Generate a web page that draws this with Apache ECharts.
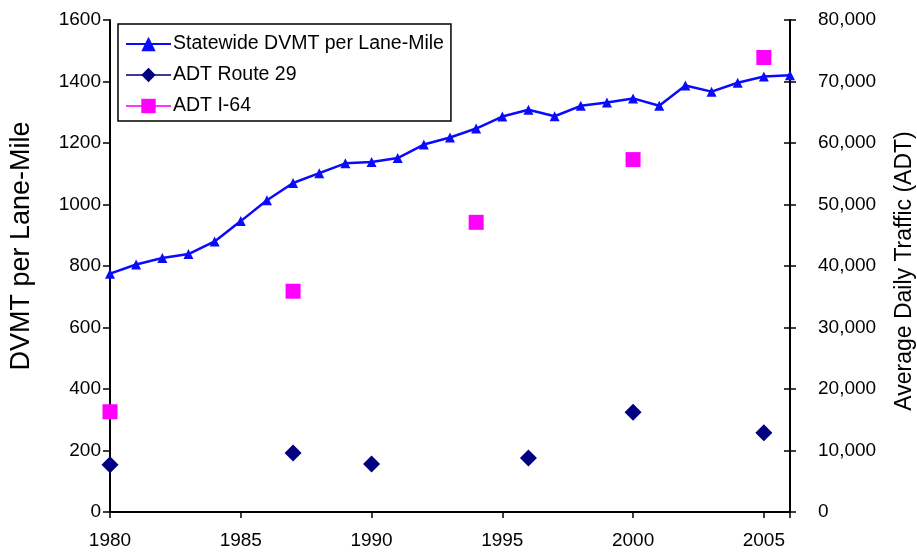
<!DOCTYPE html>
<html>
<head>
<meta charset="utf-8">
<script src="https://cdn.jsdelivr.net/npm/echarts@6/dist/echarts.min.js"></script>
<style>
html,body{margin:0;padding:0;background:#fff;}
#chart{width:917px;height:552px;}
</style>
</head>
<body>
<div id="chart"></div>
<script>
var years = [1980,1981,1982,1983,1984,1985,1986,1987,1988,1989,1990,1991,1992,1993,1994,1995,1996,1997,1998,1999,2000,2001,2002,2003,2004,2005,2006];
var dvmt = [775,805,826,839,880,946,1014,1070,1102,1134,1138,1151,1195,1218,1247,1286,1308,1287,1321,1332,1345,1321,1387,1367,1396,1416,1420];
var route29Years = [1980,1987,1990,1996,2000,2005];
var route29Adt = [7700,9600,7800,8800,16200,12900];
var i64Years = [1980,1987,1994,2000,2005];
var i64Adt = [16300,35900,47100,57300,73900];

var font = 'Liberation Sans, Arial, sans-serif';
function pairs(xs, ys){ return xs.map(function(x,i){ return [x, ys[i]]; }); }
function commas(v){ return String(v).replace(/\B(?=(\d{3})+(?!\d))/g, ','); }

var chart = echarts.init(document.getElementById('chart'), null, {renderer:'canvas'});
chart.setOption({
  animation:false,
  backgroundColor:'#fff',
  textStyle:{fontFamily:font, color:'#000'},
  grid:{left:110, right:127, top:20, bottom:40, outerBoundsMode:'none', containLabel:false},
  legend:{
    orient:'vertical', left:118, top:24,
    padding:[10,7,5,7], itemGap:11, itemWidth:45, itemHeight:18,
    borderColor:'#000', borderWidth:1.5, backgroundColor:'#fff',
    textStyle:{fontFamily:font, fontSize:19.5, color:'#000', padding:[0,0,0,-3]},
    data:[
      {name:'Statewide DVMT per Lane-Mile'},
      {name:'ADT Route 29', lineStyle:{opacity:1, width:2, color:'#3c3c8c'}},
      {name:'ADT I-64', lineStyle:{opacity:1, width:2, color:'#ff33ff'}}
    ]
  },
  xAxis:{
    type:'value', min:1980, max:2006, interval:5,
    axisLine:{lineStyle:{color:'#000', width:2}},
    axisTick:{show:true, length:6, lineStyle:{color:'#000', width:1.5}},
    axisLabel:{fontSize:19, color:'#000', margin:19, fontFamily:font,
      formatter:function(v){ return v % 5 === 0 ? String(v) : ''; }},
    splitLine:{show:false}
  },
  yAxis:[
    {
      type:'value', min:0, max:1600, interval:200, position:'left',
      name:'DVMT per Lane-Mile', nameLocation:'middle', nameGap:75,
      nameTextStyle:{fontSize:27, color:'#000', fontFamily:font, padding:[0,0,0,40]},
      axisLine:{show:true, lineStyle:{color:'#000', width:2}},
      axisTick:{show:true, length:7, lineStyle:{color:'#000', width:1.5}},
      axisLabel:{fontSize:19, color:'#000', margin:9, fontFamily:font,
        formatter:function(v){ return String(v); }},
      splitLine:{show:false}
    },
    {
      type:'value', min:0, max:80000, interval:10000, position:'right',
      name:'Average Daily Traffic (ADT)', nameLocation:'middle', nameGap:103,
      nameTextStyle:{fontSize:23, color:'#000', fontFamily:font, padding:[0,10,0,0]},
      axisLine:{show:true, lineStyle:{color:'#000', width:2}},
      axisTick:{show:true, length:6, lineStyle:{color:'#000', width:1.5}},
      axisLabel:{fontSize:19, color:'#000', margin:28, fontFamily:font, formatter:commas},
      splitLine:{show:false}
    },
    {
      type:'value', min:0, max:80000, interval:10000, position:'right',
      axisLine:{show:false},
      axisTick:{show:true, inside:true, length:6, lineStyle:{color:'#000', width:1.5}},
      axisLabel:{show:false},
      splitLine:{show:false}
    }
  ],
  series:[
    {
      name:'Statewide DVMT per Lane-Mile', type:'line', yAxisIndex:0,
      data:pairs(years, dvmt),
      symbol:'triangle', symbolSize:10, showSymbol:true,
      lineStyle:{color:'#0a0aff', width:2.5},
      itemStyle:{color:'#0a0aff'}
    },
    {
      name:'ADT Route 29', type:'line', yAxisIndex:1,
      data:pairs(route29Years, route29Adt),
      symbol:'diamond', symbolSize:17, showSymbol:true,
      lineStyle:{opacity:0},
      itemStyle:{color:'#000080'}
    },
    {
      name:'ADT I-64', type:'line', yAxisIndex:1,
      data:pairs(i64Years, i64Adt),
      symbol:'rect', symbolSize:15, showSymbol:true,
      lineStyle:{opacity:0},
      itemStyle:{color:'#ff00ff'}
    }
  ]
});
</script>
</body>
</html>
